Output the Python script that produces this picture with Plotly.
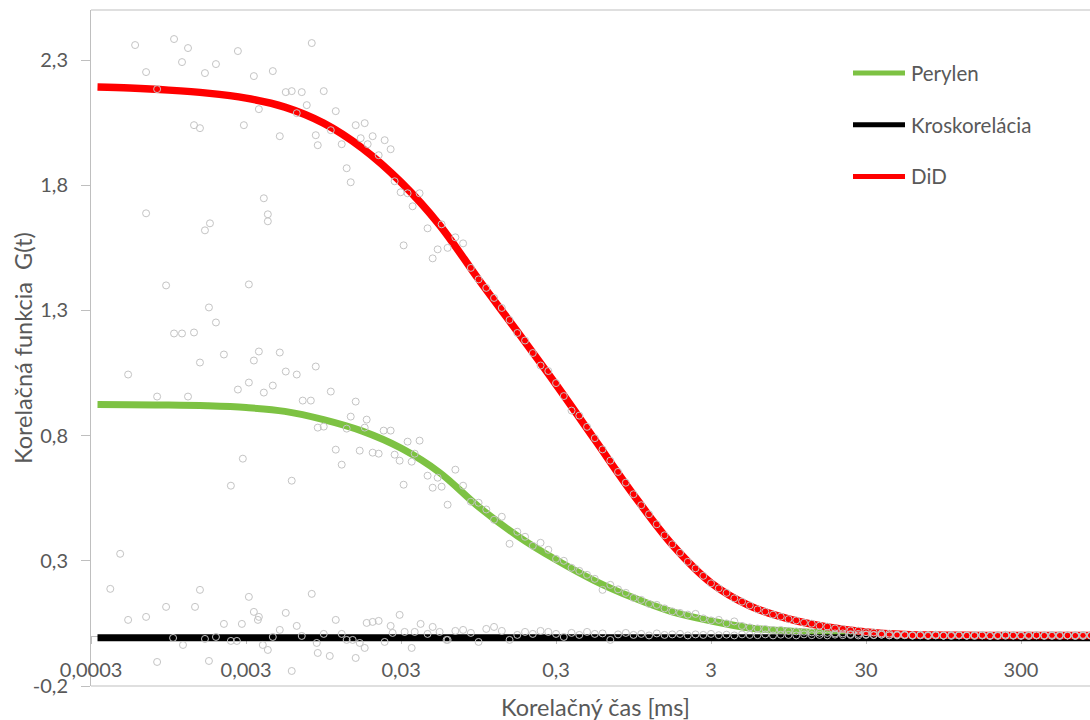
import plotly.graph_objects as go

# ---------------- data ----------------
# fitted curves (lag time in ms)
fit_t = [0.00033, 0.000533, 0.000949, 0.001687, 0.003, 0.005335, 0.009487, 0.01687,
         0.03, 0.05335, 0.09487, 0.1687, 0.3, 0.5335, 0.9487, 1.687, 3.0, 5.335,
         9.487, 16.87, 30.0, 53.35, 94.87, 168.7, 300.0, 533.5, 850.0]
perylen_fit = [0.924, 0.923, 0.922, 0.919, 0.912, 0.897, 0.864, 0.818, 0.750, 0.652,
               0.516, 0.400, 0.304, 0.220, 0.152, 0.096, 0.060, 0.032, 0.020, 0.012,
               0.006, 0.002, 0.001, 0.0, 0.0, 0.0, 0.0]
cross_fit = [-0.007] * len(fit_t)
did_fit = [2.192, 2.188, 2.180, 2.168, 2.148, 2.112, 2.048, 1.948, 1.812, 1.640,
           1.424, 1.216, 1.004, 0.784, 0.564, 0.364, 0.212, 0.120, 0.068, 0.036,
           0.016, 0.006, 0.003, 0.002, 0.002, 0.002, 0.002]

# measured correlation points, short lag times (noisy part)
did_early_t = [0.000577, 0.001029, 0.001266, 0.001158, 0.000679, 0.001628, 0.001917, 0.002656,
               0.003368, 0.004462, 0.00796, 0.00541, 0.00591, 0.00686, 0.00951, 0.003628,
               0.00739, 0.01137, 0.00637, 0.01056, 0.001384, 0.001512, 0.002903, 0.00495,
               0.00845, 0.0087, 0.01242, 0.01529, 0.01748, 0.01647, 0.01967, 0.01827,
               0.02351, 0.0257, 0.02151, 0.01337, 0.0142, 0.02727, 0.02981, 0.03307,
               0.0395, 0.03563, 0.04448, 0.0548, 0.03116, 0.04797, 0.05168, 0.000679,
               0.003905, 0.004144, 0.004144, 0.001754, 0.001628, 0.0008, 0.000914, 0.003127,
               0.001728, 0.001917, 0.001029, 0.001158, 0.001384, 0.002158, 0.001512, 0.003628,
               0.003368, 0.00495, 0.00052]
did_early_g = [2.36, 2.384, 2.348, 2.292, 2.252, 2.248, 2.284, 2.336,
               2.236, 2.256, 2.368, 2.172, 2.176, 2.172, 2.176, 2.104,
               2.12, 2.096, 2.088, 2.02, 2.04, 2.028, 2.04, 1.996,
               2.0, 1.96, 1.964, 2.04, 2.048, 1.988, 1.996, 1.964,
               1.98, 1.944, 1.92, 1.868, 1.812, 1.816, 1.772, 1.768,
               1.768, 1.716, 1.628, 1.644, 1.56, 1.508, 1.544, 1.688,
               1.748, 1.684, 1.656, 1.648, 1.62, 2.184, 1.40, 1.404,
               1.312, 1.252, 1.208, 1.208, 1.212, 1.124, 1.092, 1.136,
               1.10, 1.132, 1.044]

perylen_early_t = [0.0008, 0.001266, 0.002656, 0.003127, 0.003905, 0.004462, 0.01056, 0.00696,
                   0.00785, 0.01529, 0.0087, 0.00951, 0.01337, 0.0142, 0.018, 0.01748,
                   0.02316, 0.0257, 0.03307, 0.0395, 0.01137, 0.01623, 0.01967, 0.02151,
                   0.02727, 0.02937, 0.03512, 0.03673, 0.01242, 0.002859, 0.002394, 0.00591,
                   0.03116, 0.04448, 0.04797, 0.0548, 0.05168, 0.00541, 0.00637, 0.00845]
perylen_early_g = [0.956, 0.956, 0.984, 1.012, 0.972, 1.0, 0.976, 0.94,
                   0.94, 0.936, 0.832, 0.836, 0.828, 0.876, 0.864, 0.832,
                   0.82, 0.82, 0.776, 0.78, 0.744, 0.74, 0.732, 0.728,
                   0.724, 0.70, 0.696, 0.728, 0.684, 0.708, 0.60, 0.62,
                   0.604, 0.64, 0.592, 0.596, 0.632, 1.056, 1.044, 1.076]

cross_early_t = [0.000462, 0.000399, 0.00052, 0.000679, 0.000914, 0.001405, 0.001512, 0.003127,
                 0.003368, 0.003628, 0.002158, 0.002818, 0.00541, 0.00796, 0.00495, 0.00637,
                 0.01137, 0.00951, 0.01242, 0.00686, 0.018, 0.01967, 0.02151, 0.02937,
                 0.0257, 0.0401, 0.04797, 0.02646, 0.03163, 0.03673, 0.04448, 0.0532,
                 0.059, 0.001014, 0.001628, 0.001917, 0.002394, 0.002616, 0.004462, 0.001175,
                 0.003846, 0.004144, 0.00857, 0.01337, 0.01462, 0.01623, 0.01748, 0.02351,
                 0.03512, 0.0087, 0.0104, 0.01529, 0.0008, 0.001728, 0.00591, 0.003574]
cross_early_g = [0.328, 0.188, 0.064, 0.076, 0.116, 0.116, 0.184, 0.156,
                 0.096, 0.076, 0.048, 0.048, 0.092, 0.168, 0.024, 0.04,
                 0.064, 0.008, 0.008, 0.0, 0.052, 0.056, 0.06, 0.084,
                 0.04, 0.048, 0.036, 0.012, 0.016, 0.016, 0.008, 0.016,
                 -0.016, -0.008, -0.012, -0.004, -0.02, -0.02, -0.004, -0.036,
                 -0.036, -0.056, -0.028, -0.016, -0.016, -0.028, -0.048, -0.024,
                 -0.048, -0.068, -0.08, -0.088, -0.104, -0.1, -0.14, 0.064]

# measured correlation points, longer lag times (shared lag grid)
lag_t = [0.0599, 0.0672, 0.0754, 0.0846, 0.0949, 0.1064, 0.1194, 0.1340, 0.1504, 0.1687,
         0.1893, 0.2124, 0.2383, 0.2674,
         0.300, 0.3366, 0.3777, 0.4238, 0.4755, 0.5335, 0.5986, 0.6717, 0.7536, 0.8456,
         0.9487, 1.064, 1.194, 1.340, 1.504, 1.687, 1.893, 2.124, 2.383, 2.674,
         3.00, 3.366, 3.777, 4.238, 4.755, 5.335, 5.986, 6.717, 7.536, 8.456,
         9.487, 10.64, 11.94, 13.40, 15.04, 16.87, 18.93, 21.24, 23.83, 26.74,
         30.0, 33.66, 37.77, 42.38, 47.55, 53.35, 59.86, 67.17, 75.36, 84.56,
         94.87, 106.4, 119.4, 134.0, 150.4, 168.7, 189.3, 212.4, 238.3, 267.4,
         300.0, 336.6, 377.7, 423.8, 475.5, 533.5, 598.6, 671.7, 753.6, 845.6]
did_g = [1.55, 1.592, 1.568, 1.47, 1.424, 1.39, 1.35, 1.31, 1.262, 1.21,
         1.18, 1.13, 1.08, 1.058,
         1.01, 0.958, 0.90, 0.88, 0.835, 0.79, 0.745, 0.70, 0.655, 0.612,
         0.566, 0.522, 0.486, 0.446, 0.402, 0.366, 0.332, 0.296, 0.27, 0.24,
         0.21, 0.19, 0.172, 0.15, 0.137, 0.122, 0.106, 0.097, 0.085, 0.077,
         0.067, 0.062, 0.053, 0.049, 0.041, 0.037, 0.03, 0.028, 0.022, 0.021,
         0.015, 0.014, 0.010, 0.009, 0.005, 0.005, 0.003, 0.004, 0.002, 0.003,
         0.001, 0.003, 0.002, 0.001, 0.003, 0.002, 0.0, 0.002, 0.003, 0.001,
         0.002, 0.0, 0.003, 0.002, 0.001, 0.003, 0.002, 0.0, 0.002, 0.003]
perylen_g = [0.524, 0.664, 0.60, 0.536, 0.532, 0.505, 0.464, 0.476, 0.368, 0.416,
             0.396, 0.36, 0.372, 0.344,
             0.308, 0.30, 0.272, 0.26, 0.244, 0.228, 0.184, 0.204, 0.186, 0.172,
             0.152, 0.144, 0.128, 0.124, 0.11, 0.098, 0.092, 0.085, 0.088, 0.07,
             0.062, 0.064, 0.05, 0.058, 0.04, 0.034, 0.03, 0.028, 0.024, 0.024,
             0.02, 0.018, 0.017, 0.014, 0.013, 0.012, 0.01, 0.01, 0.007, 0.008,
             0.006, 0.004, 0.005, 0.003, 0.002, 0.003, 0.001, 0.002, 0.0, 0.002,
             0.001, 0.0, 0.002, 0.001, 0.0, 0.002, 0.001, 0.0, 0.001, 0.002,
             0.0, 0.001, 0.002, 0.0, 0.001, 0.0, 0.002, 0.001, 0.0, 0.001]
cross_g = [-0.016, 0.02, 0.024, 0.012, -0.024, 0.028, 0.036, 0.02, -0.016, 0.004,
           0.016, 0.008, 0.02, 0.016,
           0.008, -0.004, 0.012, 0.004, 0.016, 0.008, 0.01, -0.016, 0.006, 0.012,
           0.004, 0.008, 0.002, 0.01, 0.004, 0.006, 0.008, 0.002, 0.006, 0.004,
           0.008, 0.003, 0.005, 0.002, 0.006, 0.004, 0.003, 0.006, 0.002, 0.005,
           0.004, 0.002, 0.006, 0.003, 0.004, 0.002, 0.005, 0.003, 0.004, 0.002,
           0.004, 0.003, 0.005, 0.002, 0.004, 0.003, 0.002, 0.004, 0.003, 0.005,
           0.002, 0.003, 0.004, 0.002, 0.003, 0.004, 0.002, 0.003, 0.005, 0.003,
           0.002, 0.004, 0.003, 0.002, 0.004, 0.003, 0.002, 0.003, 0.004, 0.002]

x_tickvals = [0.0003, 0.003, 0.03, 0.3, 3, 30, 300]
x_ticktext = ["0,0003", "0,003", "0,03", "0,3", "3", "30", "300"]
y_tickvals = [-0.2, 0.3, 0.8, 1.3, 1.8, 2.3]
y_ticktext = ["-0,2", "0,3", "0,8", "1,3", "1,8", "2,3"]

series_names = ["Perylen", "Kroskorelácia", "DiD"]

# ---------------- styles ----------------
FONT = "Lato"
TXT = "#595959"
AX = "#BFBFBF"
GREEN = "#7DC243"
BLACK = "#000000"
RED = "#FF0000"
line_colors = [GREEN, BLACK, RED]

fig = go.Figure()

# fitted lines
for name, yv, col, w in zip(series_names, [perylen_fit, cross_fit, did_fit], line_colors, [7, 7, 7.5]):
    fig.add_trace(go.Scatter(x=fit_t, y=yv, mode="lines", name=name,
                             line=dict(color=col, width=w, shape="spline", smoothing=1.0),
                             hoverinfo="skip"))

# measured points
marker = dict(symbol="circle-open", size=7, color="#C4C4C4", line=dict(width=1))
for xs, ys in [(perylen_early_t + lag_t, perylen_early_g + perylen_g),
               (cross_early_t + lag_t, cross_early_g + cross_g),
               (did_early_t + lag_t, did_early_g + did_g)]:
    fig.add_trace(go.Scatter(x=xs, y=ys, mode="markers", marker=marker,
                             showlegend=False, hoverinfo="skip"))

W, H = 1090, 720
ML, MR, MT, MB = 91, 0, 10, 34
pw, ph = W - ML - MR, H - MT - MB

def px(xp):
    return (xp - ML) / pw

def py(yp):
    return (H - MB - yp) / ph

fig.update_layout(
    width=W, height=H,
    margin=dict(l=ML, r=MR, t=MT, b=MB),
    plot_bgcolor="white", paper_bgcolor="white",
    showlegend=False,
    font=dict(family=FONT, color=TXT, size=20),
    xaxis=dict(type="log", range=[-3.5235, 2.9223], tickvals=x_tickvals, ticktext=x_ticktext,
               ticks="outside", ticklen=7, tickcolor=AX, showline=True, linecolor=AX,
               linewidth=1, showgrid=False, zeroline=False, anchor="free",
               position=py(636), tickfont=dict(size=20, color=TXT, family=FONT),
               ticklabelstandoff=9, layer="below traces"),
    yaxis=dict(range=[-0.2, 2.5], tickvals=y_tickvals, ticktext=y_ticktext,
               ticks="outside", ticklen=9, tickcolor=AX, showline=True, linecolor=AX,
               linewidth=1, showgrid=False, zeroline=False,
               tickfont=dict(size=20, color=TXT, family=FONT), ticklabelstandoff=9,
               layer="below traces"),
)

shapes = [
    dict(type="line", xref="paper", yref="paper", x0=0, x1=1, y0=1, y1=1,
         line=dict(color=AX, width=1), layer="below"),
    dict(type="line", xref="paper", yref="paper", x0=0, x1=1, y0=0, y1=0,
         line=dict(color=AX, width=1), layer="below"),
]
annotations = [
    dict(text="Korelačná funkcia\u00a0 G(t)", xref="paper", yref="paper", x=0, y=0.5,
         xanchor="center", yanchor="middle", xshift=-68, textangle=-90, showarrow=False,
         font=dict(size=23.5, color=TXT, family=FONT)),
    dict(text="Korelačný čas [ms]", xref="paper", yref="paper", x=px(595), y=0,
         xanchor="center", yanchor="middle", yshift=-21, showarrow=False,
         font=dict(size=23.5, color=TXT, family=FONT)),
]
# legend drawn manually
for i, (name, col) in enumerate(zip(series_names, line_colors)):
    yl = py(73 + i * 51.7)
    shapes.append(dict(type="line", xref="paper", yref="paper", x0=px(853), x1=px(905),
                       y0=yl, y1=yl, line=dict(color=col, width=5)))
    annotations.append(dict(text=name, xref="paper", yref="paper", x=px(909), y=yl,
                            xanchor="left", yanchor="middle", showarrow=False,
                            font=dict(size=20.5, color=TXT, family=FONT)))

fig.update_layout(shapes=shapes, annotations=annotations)
fig.write_html("out.html")
